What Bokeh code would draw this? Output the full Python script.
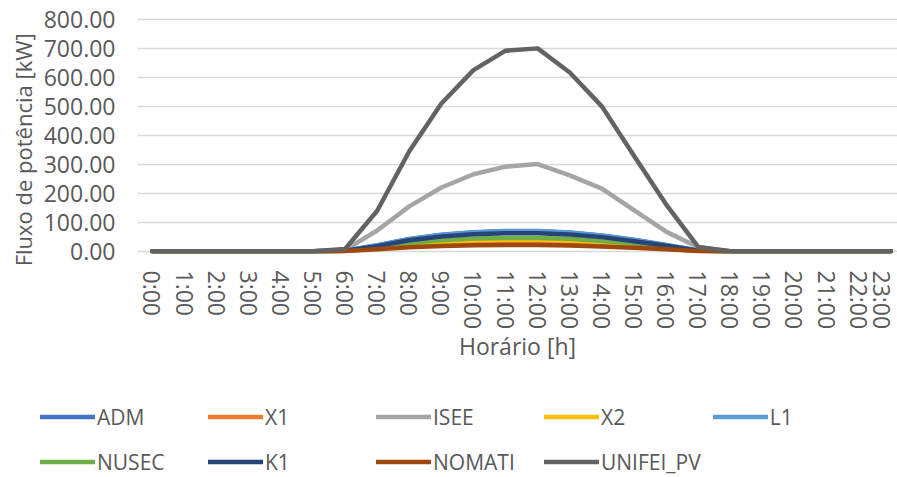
from bokeh.plotting import figure
from bokeh.models import FixedTicker, NumeralTickFormatter, Legend, LegendItem, Range1d
from bokeh.embed import file_html
from bokeh.resources import INLINE

hours = ["0:00", "1:00", "2:00", "3:00", "4:00", "5:00", "6:00", "7:00", "8:00", "9:00",
         "10:00", "11:00", "12:00", "13:00", "14:00", "15:00", "16:00", "17:00", "18:00",
         "19:00", "20:00", "21:00", "22:00", "23:00"]

ADM = [0, 0, 0, 0, 0, 0, 2, 21, 43, 57, 66, 70, 70, 65, 55, 40, 22, 3, 0, 0, 0, 0, 0, 0]
X1 = [0, 0, 0, 0, 0, 0, 1, 10, 20, 27, 31, 33, 33, 31, 26, 19, 10, 1, 0, 0, 0, 0, 0, 0]
ISEE = [0, 0, 0, 0, 0, 0, 5, 72, 155, 220, 266, 292, 301, 262, 216, 142, 68, 14, 0, 0, 0, 0, 0, 0]
X2 = [0, 0, 0, 0, 0, 0, 1, 12, 25, 33, 38, 40, 40, 37, 32, 23, 12, 2, 0, 0, 0, 0, 0, 0]
L1 = [0, 0, 0, 0, 0, 0, 2, 20, 42, 56, 65, 69, 69, 64, 54, 39, 21, 3, 0, 0, 0, 0, 0, 0]
NUSEC = [0, 0, 0, 0, 0, 0, 1, 14, 29, 38, 44, 46, 46, 43, 36, 27, 14, 2, 0, 0, 0, 0, 0, 0]
K1 = [0, 0, 0, 0, 0, 0, 2, 18, 38, 51, 59, 62, 62, 58, 49, 35, 19, 2, 0, 0, 0, 0, 0, 0]
NOMATI = [0, 0, 0, 0, 0, 0, 1, 7, 14, 18, 21, 22, 22, 20, 17, 12, 7, 1, 0, 0, 0, 0, 0, 0]
UNIFEI_PV = [0, 0, 0, 0, 0, 0, 8, 140, 345, 510, 625, 692, 700, 617, 500, 330, 162, 15, 0, 0, 0, 0, 0, 0]

series = [
    ("ADM", ADM, "#4472C4"),
    ("X1", X1, "#ED7D31"),
    ("ISEE", ISEE, "#A5A5A5"),
    ("X2", X2, "#FFC000"),
    ("L1", L1, "#5B9BD5"),
    ("NUSEC", NUSEC, "#70AD47"),
    ("K1", K1, "#264478"),
    ("NOMATI", NOMATI, "#9E480E"),
    ("UNIFEI_PV", UNIFEI_PV, "#636363"),
]

y_ticks = [0, 100, 200, 300, 400, 500, 600, 700, 800]
FONT = "Open Sans"
TXT = "#595959"
NBSP = "\u00a0"

x = list(range(len(hours)))

p = figure(width=897, height=380, output_backend="svg", toolbar_location=None,
           x_range=Range1d(-0.467, 23.21), y_range=Range1d(-7.5, 806.5),
           min_border_left=137, min_border_right=0, min_border_top=17,
           min_border_bottom=127)
p.outline_line_color = None
p.background_fill_color = "white"

for name, vals, col in series:
    p.line(x, vals, line_color=col, line_width=4.5, line_cap="round", line_join="round")

# y axis
p.yaxis.ticker = FixedTicker(ticks=y_ticks)
p.yaxis.formatter = NumeralTickFormatter(format="0.00")
p.yaxis.axis_line_color = None
p.yaxis.major_tick_line_color = None
p.yaxis.minor_tick_line_color = None
p.yaxis.major_tick_out = 0
p.yaxis.major_label_standoff = 22
p.yaxis.major_label_text_font = FONT
p.yaxis.major_label_text_font_size = "23px"
p.yaxis.major_label_text_color = TXT
p.yaxis.axis_label = "Fluxo de potência [kW]" + NBSP * 5
p.yaxis.axis_label_text_font = FONT
p.yaxis.axis_label_text_font_size = "22px"
p.yaxis.axis_label_text_font_style = "normal"
p.yaxis.axis_label_text_color = TXT
p.yaxis.axis_label_standoff = 3

# x axis
p.xaxis.ticker = FixedTicker(ticks=x)
p.xaxis.major_label_overrides = {i: h for i, h in enumerate(hours)}
p.xaxis.major_label_orientation = "vertical"
p.xaxis.axis_line_color = None
p.xaxis.major_tick_line_color = None
p.xaxis.minor_tick_line_color = None
p.xaxis.major_tick_out = 0
p.xaxis.major_label_standoff = 17
p.xaxis.major_label_text_font = FONT
p.xaxis.major_label_text_font_size = "23px"
p.xaxis.major_label_text_color = TXT
p.xaxis.axis_label = "Horário [h]"
p.xaxis.axis_label_text_font = FONT
p.xaxis.axis_label_text_font_size = "23px"
p.xaxis.axis_label_text_font_style = "normal"
p.xaxis.axis_label_text_color = TXT
p.xaxis.axis_label_standoff = -2

p.xgrid.grid_line_color = None
p.ygrid.ticker = FixedTicker(ticks=y_ticks)
p.ygrid.grid_line_color = "#D9D9D9"
p.ygrid.grid_line_width = 1.5
p.ygrid.level = "underlay"

# legend figure (separate root so its frame is not aligned to the chart's)
lg = figure(width=897, height=97, output_backend="svg", toolbar_location=None,
            x_axis_type=None, y_axis_type=None,
            x_range=Range1d(0, 1), y_range=Range1d(5000, 5001),
            min_border=0, min_border_left=0, min_border_right=0,
            min_border_top=0, min_border_bottom=0)
lg.outline_line_color = None
lg.xgrid.grid_line_color = None
lg.ygrid.grid_line_color = None

items = []
for name, vals, col in series:
    r = lg.line(x, vals, line_color=col, line_width=4.5, line_cap="round")
    items.append(LegendItem(label=name, renderers=[r]))

legend = Legend(items=items, orientation="horizontal", ncols=5,
                location=(40, -1), glyph_width=55, glyph_height=33,
                label_height=33, label_standoff=2, label_width=99, spacing=12,
                padding=0, margin=0,
                border_line_color=None, background_fill_alpha=0,
                label_text_font=FONT, label_text_font_size="21px",
                label_text_color=TXT)
lg.add_layout(legend)

open("out.html", "w").write(file_html([p, lg], INLINE))
